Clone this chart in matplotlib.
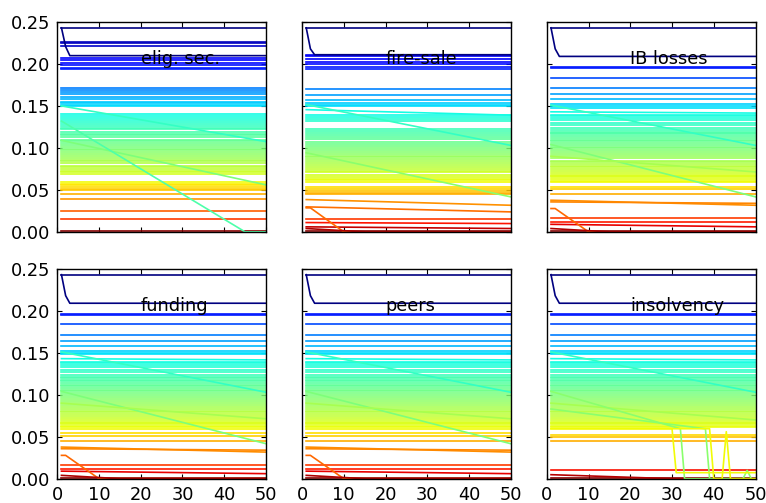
import numpy as np
import matplotlib
matplotlib.use("Agg")
import matplotlib.pyplot as plt

# ---------------- data ----------------
titles = ["elig. sec.", "fire-sale", "IB losses", "funding", "peers", "insolvency"]
T_START, T_END = 1, 50
x_ticks = [0, 10, 20, 30, 40, 50]
y_ticks = [0.00, 0.05, 0.10, 0.15, 0.20, 0.25]

# --- panel 1: elig. sec. (constant paths) ---
flat_elig = [0.2430, 0.2266, 0.2246, 0.2218, 0.2067, 0.2047, 0.2007, 0.1987, 0.1948, 0.1940,
             0.1717, 0.1690, 0.1665, 0.1640, 0.1610, 0.1585, 0.1545, 0.1530, 0.1515, 0.1500,
             0.1400, 0.1380, 0.1355, 0.1330, 0.1310, 0.1290, 0.1265, 0.1240, 0.1220, 0.1195,
             0.1170, 0.1150, 0.1125, 0.1100, 0.1080, 0.1060, 0.1035, 0.1010, 0.0990, 0.0970,
             0.0950, 0.0925, 0.0900, 0.0880, 0.0860, 0.0840, 0.0815, 0.0790, 0.0770, 0.0750,
             0.0730, 0.0710, 0.0690,
             0.0595, 0.0575, 0.0555, 0.0530, 0.0510, 0.0495, 0.0457, 0.0395,
             0.0250, 0.0150, 0.0010]
drift_elig_start = [0.1500, 0.1090]
drift_elig_end = [0.1075, 0.0560]
drift_elig_key = [0.128, 0.100]

# --- panel 2: fire-sale ---
flat_fire = [0.2430, 0.2110, 0.2090, 0.2063, 0.2024, 0.1996, 0.1964, 0.1944,
             0.1706, 0.1635, 0.1575, 0.1536, 0.1516, 0.1496,
             0.1397, 0.1369, 0.1341, 0.1317,
             0.1230, 0.1206, 0.1180, 0.1155, 0.1130, 0.1110,
             0.1071, 0.1050, 0.1027, 0.1000, 0.0980, 0.0956, 0.0933, 0.0905, 0.0893,
             0.0873, 0.0850, 0.0825, 0.0800, 0.0778, 0.0754, 0.0730, 0.0714,
             0.0683, 0.0659, 0.0635, 0.0615, 0.0595,
             0.0536, 0.0516, 0.0490, 0.0468, 0.0448,
             0.0151, 0.0010]
drift_fire_start = [0.1456, 0.1516, 0.0942, 0.0385, 0.0298, 0.0111, 0.0060]
drift_fire_end = [0.1390, 0.1030, 0.0417, 0.0317, 0.0238, 0.0099, 0.0040]
drift_fire_key = [0.140, 0.128, 0.095, 0.0385, 0.0298, 0.0111, 0.0060]

# --- panels 3-5 (IB losses, funding, peers) share one set ---
flat_base_top = [0.2430, 0.1960, 0.1950, 0.1837, 0.1714, 0.1639, 0.1580, 0.1520, 0.1500, 0.1480]
flat_base_mid = [0.1395, 0.1375, 0.1355, 0.1330, 0.1300, 0.1270, 0.1235, 0.1215, 0.1195, 0.1175,
                 0.1160, 0.1140, 0.1120, 0.1100, 0.1080, 0.1060, 0.1040, 0.1015, 0.0995, 0.0970,
                 0.0950, 0.0930, 0.0900, 0.0880, 0.0850, 0.0830, 0.0810, 0.0790, 0.0770, 0.0750,
                 0.0725, 0.0700, 0.0680, 0.0665, 0.0650, 0.0630, 0.0610]
flat_base_low = [0.0595, 0.0540, 0.0510, 0.0450, 0.0160, 0.0120, 0.0010]
drift_base_start = [0.1430, 0.1510, 0.1040, 0.0900, 0.0377, 0.0357, 0.0090]
drift_base_end = [0.1415, 0.1030, 0.0417, 0.0714, 0.0317, 0.0340, 0.0060]
drift_base_key = [0.140, 0.128, 0.100, 0.085, 0.0377, 0.0357, 0.0090]

# --- panel 6: insolvency ---
flat_insolv_low = [0.0524, 0.0492, 0.0444, 0.0107, 0.0010]
drift_insolv_start = [0.1430, 0.1510, 0.0900]
drift_insolv_end = [0.1415, 0.1030, 0.0700]
drift_insolv_key = [0.140, 0.128, 0.085]

# multi-step paths: (time points, values, colour key)
navy_t = [1, 2, 3, 50]
navy_elig = [0.2430, 0.2206, 0.2099, 0.2099]
navy_fire = [0.2430, 0.2180, 0.2110, 0.2110]
navy_base = [0.2430, 0.2180, 0.2090, 0.2090]
steep_elig_t = [1, 45, 50]
steep_elig_v = [0.1320, 0.0000, 0.0000]
orange_t = [1, 2, 10, 50]
orange_fire = [0.0286, 0.0286, 0.0000, 0.0000]
orange_base = [0.0278, 0.0278, 0.0000, 0.0000]
red_t = [1, 15, 50]
red_v = [0.0040, 0.0000, 0.0000]
red_insolv_t = [1, 30, 50]
red_insolv_v = [0.0048, 0.0000, 0.0000]
g1_t = [1, 32, 33, 47, 48, 49, 50]
g1_v = [0.1040, 0.0595, 0.0000, 0.0000, 0.0099, 0.0000, 0.0000]
g2_t = [1, 38, 39, 50]
g2_v = [0.0830, 0.0595, 0.0000, 0.0000]
y1_t = [1, 30, 31, 50]
y1_v = [0.0595, 0.0595, 0.0072, 0.0072]
y2_t = [1, 39, 40, 42, 43, 44, 50]
y2_v = [0.0595, 0.0595, 0.0000, 0.0000, 0.0560, 0.0000, 0.0000]

base_flat = flat_base_top + flat_base_mid + flat_base_low
base_paths = [(navy_t, navy_base, None), (orange_t, orange_base, None), (red_t, red_v, None)]

panels = [
    dict(flat=flat_elig, ds=drift_elig_start, de=drift_elig_end, dk=drift_elig_key,
         paths=[(navy_t, navy_elig, None), (steep_elig_t, steep_elig_v, 0.118)]),
    dict(flat=flat_fire, ds=drift_fire_start, de=drift_fire_end, dk=drift_fire_key,
         paths=[(navy_t, navy_fire, None), (orange_t, orange_fire, None), (red_t, red_v, None)]),
    dict(flat=base_flat, ds=drift_base_start, de=drift_base_end, dk=drift_base_key,
         paths=base_paths),
    dict(flat=base_flat, ds=drift_base_start, de=drift_base_end, dk=drift_base_key,
         paths=base_paths),
    dict(flat=base_flat, ds=drift_base_start, de=drift_base_end, dk=drift_base_key,
         paths=base_paths),
    dict(flat=flat_base_top + flat_base_mid + flat_insolv_low,
         ds=drift_insolv_start, de=drift_insolv_end, dk=drift_insolv_key,
         paths=[(navy_t, navy_base, None), (red_insolv_t, red_insolv_v, None),
                (g1_t, g1_v, 0.095), (g2_t, g2_v, 0.095),
                (y1_t, y1_v, None), (y2_t, y2_v, None)]),
]

# ---------------- style ----------------
COL_V = [0.0, 0.015, 0.040, 0.062, 0.100, 0.150, 0.195, 0.243]
COL_F = [1.0, 0.85, 0.75, 0.63, 0.50, 0.34, 0.15, 0.0]
LW = 1.2
FS = 12.8


def colour(v):
    return plt.cm.jet(float(np.interp(v, COL_V, COL_F)))


fig = plt.figure(figsize=(7.66, 5.03), dpi=100)
fig.subplots_adjust(left=0.0748, right=0.9863, bottom=0.0483, top=0.9563,
                    wspace=0.173, hspace=0.176)
axes = fig.subplots(2, 3, sharex=True, sharey=True)

for k, (ax, p) in enumerate(zip(axes.flat, panels)):
    for v in sorted(p["flat"], reverse=True):
        ax.plot([T_START, T_END], [v, v], color=colour(v), lw=LW)
    for s, e, key in zip(p["ds"], p["de"], p["dk"]):
        ax.plot([T_START, T_END], [s, e], color=colour(key), lw=LW)
    for t, vals, key in p["paths"]:
        c = colour(vals[0] if key is None else key)
        ax.plot(t, vals, color=c, lw=LW)
    ax.text(20, 0.2, titles[k], fontsize=FS)
    ax.set_xlim(0, 50)
    ax.set_ylim(0, 0.25)
    ax.set_xticks(x_ticks)
    ax.set_yticks(y_ticks)
    ax.tick_params(direction="in", top=True, right=True, length=3.5, width=0.8,
                   labelsize=FS, pad=5)
    for sp in ax.spines.values():
        sp.set_linewidth(1.0)
        sp.set_zorder(5)

axes[0, 0].yaxis.set_major_formatter(matplotlib.ticker.FormatStrFormatter("%.2f"))
for ax in axes[0, :]:
    ax.tick_params(labelbottom=False)
for ax in axes[:, 1:].flat:
    ax.tick_params(labelleft=False)

fig.savefig("out.png", dpi=100)
